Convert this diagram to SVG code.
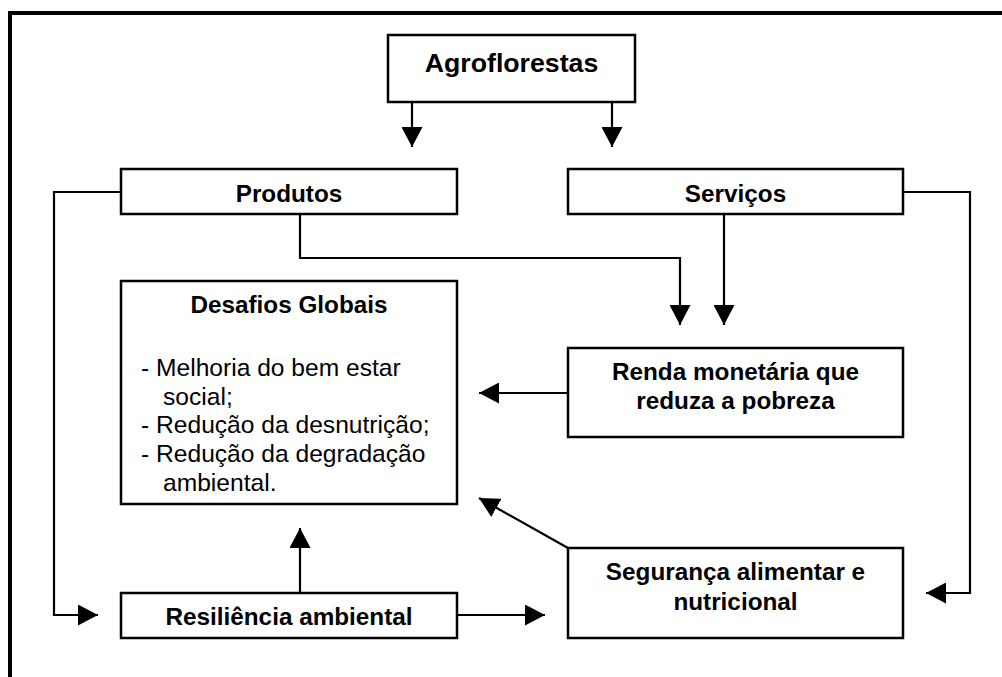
<svg xmlns="http://www.w3.org/2000/svg" width="1002" height="677" viewBox="0 0 1002 677">
<defs>
<marker id="ah" markerWidth="20" markerHeight="21" refX="20" refY="10.5" orient="auto" markerUnits="userSpaceOnUse">
<path d="M0,0 L20,10.5 L0,21 Z" fill="#000"/>
</marker>
<style>
.box{fill:#fff;stroke:#000;stroke-width:2.5}
.b{font-family:"Liberation Sans",Arial,sans-serif;font-weight:bold;font-size:24.3px;text-anchor:middle;fill:#000}
.r{font-family:"Liberation Sans",Arial,sans-serif;font-size:24.6px;fill:#000}
.c{fill:none;stroke:#000;stroke-width:2.2}
</style>
</defs>
<rect width="1002" height="677" fill="#fff"/>
<path d="M10,677 V13 H1002" fill="none" stroke="#000" stroke-width="4"/>
<g id="connectors">
<path class="c" d="M412,102 V147" marker-end="url(#ah)"/>
<path class="c" d="M612,102 V147" marker-end="url(#ah)"/>
<path class="c" d="M300,214 V258 H680 V325" marker-end="url(#ah)"/>
<path class="c" d="M724,214 V325" marker-end="url(#ah)"/>
<path class="c" d="M121,192 H54 V615 H98" marker-end="url(#ah)"/>
<path class="c" d="M903,192 H970 V593 H926" marker-end="url(#ah)"/>
<path class="c" d="M568,393 H479" marker-end="url(#ah)"/>
<path class="c" d="M568,548 L479,498" marker-end="url(#ah)"/>
<path class="c" d="M300,593 V528" marker-end="url(#ah)"/>
<path class="c" d="M457,615 H545" marker-end="url(#ah)"/>
</g>
<g id="agroflorestas">
<rect class="box" x="388" y="35" width="247" height="67"/>
<text class="b" x="511.5" y="72" style="font-size:26.7px">Agroflorestas</text>
</g>
<g id="produtos">
<rect class="box" x="121" y="169" width="336" height="45"/>
<text class="b" x="289" y="202">Produtos</text>
</g>
<g id="servicos">
<rect class="box" x="568" y="169" width="335" height="45"/>
<text class="b" x="735.5" y="202">Serviços</text>
</g>
<g id="desafios">
<rect class="box" x="121" y="281" width="336" height="223"/>
<text class="b" x="289" y="313">Desafios Globais</text>
<text class="r" x="141" y="376">- Melhoria do bem estar</text>
<text class="r" x="163" y="405">social;</text>
<text class="r" x="141" y="433">- Redução da desnutrição;</text>
<text class="r" x="141" y="462">- Redução da degradação</text>
<text class="r" x="163" y="491">ambiental.</text>
</g>
<g id="renda">
<rect class="box" x="568" y="348" width="335" height="89"/>
<text class="b" x="735.5" y="380">Renda monetária que</text>
<text class="b" x="735.5" y="409">reduza a pobreza</text>
</g>
<g id="seguranca">
<rect class="box" x="568" y="548" width="335" height="90"/>
<text class="b" x="735.5" y="580">Segurança alimentar e</text>
<text class="b" x="735.5" y="610">nutricional</text>
</g>
<g id="resiliencia">
<rect class="box" x="121" y="593" width="336" height="45"/>
<text class="b" x="289" y="625">Resiliência ambiental</text>
</g>
</svg>
